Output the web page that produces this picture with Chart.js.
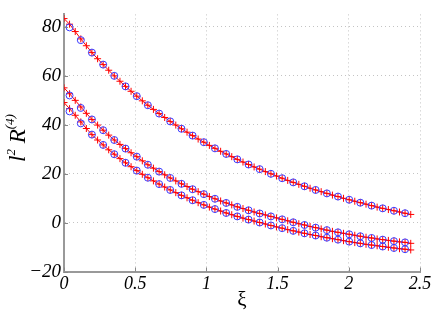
<!DOCTYPE html>
<html>
<head>
<meta charset="utf-8">
<script src="https://cdn.jsdelivr.net/npm/chart.js@4.4.1/dist/chart.umd.min.js"></script>
<style>
  html, body { margin: 0; padding: 0; background: #fff; }
  #wrap { width: 436px; height: 315px; }
</style>
</head>
<body>
<div id="wrap"><canvas id="chart" width="436" height="315"></canvas></div>
<script>
// xi values of the fine (red, +) and coarse (blue, o) samples
const xiFine = [
  0, 0.039, 0.079, 0.118, 0.157, 0.196, 0.236, 0.275, 0.314, 0.353,
  0.393, 0.432, 0.471, 0.511, 0.550, 0.589, 0.628, 0.668, 0.707, 0.746,
  0.785, 0.825, 0.864, 0.903, 0.942, 0.982, 1.021, 1.060, 1.100, 1.139,
  1.178, 1.217, 1.257, 1.296, 1.335, 1.374, 1.414, 1.453, 1.492, 1.532,
  1.571, 1.610, 1.649, 1.689, 1.728, 1.767, 1.806, 1.846, 1.885, 1.924,
  1.963, 2.003, 2.042, 2.081, 2.121, 2.160, 2.199, 2.238, 2.278, 2.317,
  2.356, 2.395, 2.435
];
const xiCoarse = [
  0.039, 0.118, 0.196, 0.275, 0.353, 0.432, 0.511, 0.589, 0.668, 0.746,
  0.825, 0.903, 0.982, 1.060, 1.139, 1.217, 1.296, 1.374, 1.453, 1.532,
  1.610, 1.689, 1.767, 1.846, 1.924, 2.003, 2.081, 2.160, 2.238, 2.317,
  2.395
];

// red curves (+)
const topFine = [
  83.3, 81.0, 78.0, 75.0, 72.2, 69.4, 66.9, 64.5, 62.2, 59.9,
  57.7, 55.6, 53.6, 51.6, 49.7, 47.9, 46.2, 44.5, 42.9, 41.3,
  39.8, 38.3, 36.9, 35.5, 34.1, 32.8, 31.5, 30.3, 29.1, 28.0,
  26.9, 25.8, 24.7, 23.7, 22.7, 21.8, 20.8, 19.9, 19.0, 18.1,
  17.2, 16.4, 15.6, 14.8, 14.0, 13.3, 12.6, 11.9, 11.2, 10.6,
  9.9, 9.3, 8.7, 8.1, 7.5, 6.9, 6.3, 5.8, 5.3, 4.8,
  4.3, 3.8, 3.3
];
const midFine = [
  55.0, 52.6, 49.9, 47.2, 44.6, 42.1, 39.8, 37.7, 35.7, 33.7,
  31.9, 30.2, 28.5, 26.9, 25.2, 23.6, 22.2, 20.8, 19.5, 18.2,
  17.0, 15.8, 14.7, 13.6, 12.6, 11.6, 10.6, 9.7, 8.8, 8.0,
  7.2, 6.4, 5.7, 5.0, 4.3, 3.7, 3.1, 2.5, 1.9, 1.3,
  0.7, 0.1, -0.5, -1.0, -1.6, -2.1, -2.6, -3.1, -3.6, -4.0,
  -4.4, -4.8, -5.2, -5.6, -6.0, -6.3, -6.7, -7.0, -7.3, -7.6,
  -7.9, -8.1, -8.5
];
const lowFine = [
  49.0, 46.5, 43.8, 41.1, 38.4, 35.9, 33.7, 31.7, 29.7, 27.9,
  26.1, 24.4, 22.8, 21.2, 19.7, 18.3, 17.0, 15.7, 14.5, 13.3,
  12.2, 11.1, 10.1, 9.1, 8.1, 7.2, 6.3, 5.5, 4.7, 3.9,
  3.2, 2.5, 1.8, 1.2, 0.6, 0.0, -0.6, -1.2, -1.8, -2.3,
  -2.9, -3.4, -3.9, -4.4, -4.9, -5.3, -5.8, -6.2, -6.6, -7.0,
  -7.4, -7.8, -8.2, -8.5, -8.9, -9.2, -9.5, -9.8, -10.1, -10.4,
  -10.7, -10.9, -11.2
];

// blue samples (o)
const topCoarse = [
  79.7, 74.5, 69.4, 64.5, 59.9, 55.6, 51.6, 47.9, 44.5, 41.3,
  38.3, 35.5, 32.8, 30.3, 28.0, 25.8, 23.7, 21.8, 19.9, 18.1,
  16.4, 14.8, 13.3, 11.9, 10.6, 9.3, 8.1, 6.9, 5.8, 4.8,
  3.8
];
const midCoarse = [
  51.9, 46.8, 42.1, 37.7, 33.7, 30.2, 26.9, 23.6, 20.8, 18.2,
  15.8, 13.6, 11.6, 9.7, 8.0, 6.4, 5.0, 3.7, 2.5, 1.3,
  0.1, -1.0, -2.1, -3.1, -4.0, -4.8, -5.6, -6.3, -7.0, -7.6,
  -8.1
];
const lowCoarse = [
  45.4, 40.5, 35.9, 31.7, 27.9, 24.4, 21.2, 18.3, 15.7, 13.3,
  11.1, 9.1, 7.2, 5.5, 3.9, 2.5, 1.2, 0.0, -1.2, -2.3,
  -3.4, -4.4, -5.3, -6.2, -7.0, -7.8, -8.5, -9.2, -9.8, -10.4,
  -10.9
];

const xTicks = [0, 0.5, 1, 1.5, 2, 2.5];
const yTicks = [-20, 0, 20, 40, 60, 80];

const SERIF = "'Liberation Serif', serif";
const RED = '#ff0000';
const BLUE = '#3a3aff';

function pts(xs, ys) {
  return ys.map((y, i) => ({ x: xs[i], y }));
}

function redSet(values) {
  return {
    data: pts(xiFine, values),
    showLine: true,
    borderColor: RED,
    borderWidth: 1,
    pointStyle: 'cross',
    pointRadius: 3.5,
    pointBorderColor: RED,
    pointBorderWidth: 1,
    order: 2
  };
}

function blueSet(values) {
  return {
    data: pts(xiCoarse, values),
    showLine: false,
    pointStyle: 'circle',
    pointRadius: 3.5,
    pointBorderColor: BLUE,
    pointBackgroundColor: 'rgba(0,0,0,0)',
    pointBorderWidth: 1,
    order: 1
  };
}

// inward tick marks + y axis title with superscripts
const axisExtras = {
  id: 'axisExtras',
  afterDraw(chart) {
    const ctx = chart.ctx;
    const { left, bottom } = chart.chartArea;
    const xs = chart.scales.x, ys = chart.scales.y;
    ctx.save();
    ctx.strokeStyle = '#888';
    ctx.lineWidth = 1;
    ctx.beginPath();
    xTicks.forEach(v => {
      const px = Math.round(xs.getPixelForValue(v)) + 0.5;
      ctx.moveTo(px, bottom);
      ctx.lineTo(px, bottom - 4);
    });
    yTicks.forEach(v => {
      const py = Math.round(ys.getPixelForValue(v)) + 0.5;
      ctx.moveTo(left, py);
      ctx.lineTo(left + 4, py);
    });
    ctx.stroke();

    const parts = [
      { t: 'l', size: 23, dy: 0 },
      { t: '2', size: 13, dy: -10 },
      { t: ' ', size: 23, dy: 0 },
      { t: 'R', size: 23, dy: 0 },
      { t: '(4)', size: 13, dy: -11 }
    ];
    let total = 0;
    parts.forEach(p => {
      ctx.font = `italic ${p.size}px ${SERIF}`;
      p.w = ctx.measureText(p.t).width;
      total += p.w;
    });
    ctx.translate(25, 138);
    ctx.rotate(-Math.PI / 2);
    ctx.fillStyle = '#000';
    ctx.textBaseline = 'alphabetic';
    let cx = -total / 2;
    parts.forEach(p => {
      ctx.font = `italic ${p.size}px ${SERIF}`;
      ctx.fillText(p.t, cx, p.dy);
      cx += p.w;
    });
    ctx.restore();
  }
};

new Chart(document.getElementById('chart'), {
  type: 'scatter',
  data: {
    datasets: [
      redSet(topFine), redSet(midFine), redSet(lowFine),
      blueSet(topCoarse), blueSet(midCoarse), blueSet(lowCoarse)
    ]
  },
  options: {
    responsive: false,
    animation: false,
    devicePixelRatio: 1,
    layout: { padding: { left: 0, right: 16, top: 3, bottom: 0 } },
    plugins: {
      legend: { display: false },
      tooltip: { enabled: false }
    },
    scales: {
      x: {
        type: 'linear',
        min: 0,
        max: 2.5,
        afterBuildTicks: s => { s.ticks = xTicks.map(v => ({ value: v })); },
        afterFit: s => { s.height = 43.5; },
        grid: { color: '#c4c4c4', lineWidth: 1, drawTicks: false },
        border: { display: true, color: '#999', width: 2, dash: [1, 3] },
        ticks: {
          padding: 2,
          color: '#000',
          font: { family: SERIF, size: 18, style: 'italic' },
          callback: v => String(v)
        },
        title: {
          display: true,
          text: 'ξ',
          color: '#000',
          font: { family: SERIF, size: 21, style: 'normal' },
          padding: { top: 0, bottom: 2 }
        }
      },
      y: {
        type: 'linear',
        min: -20,
        max: 85,
        afterBuildTicks: s => { s.ticks = yTicks.map(v => ({ value: v })); },
        afterFit: s => { s.width = 64; },
        grid: { color: '#c4c4c4', lineWidth: 1, drawTicks: false },
        border: { display: true, color: '#999', width: 2, dash: [1, 3] },
        ticks: {
          padding: 3,
          color: '#000',
          font: { family: SERIF, size: 19, style: 'italic' },
          callback: v => String(v).replace('-', '\u2212')
        }
      }
    }
  },
  plugins: [axisExtras]
});
</script>
</body>
</html>
